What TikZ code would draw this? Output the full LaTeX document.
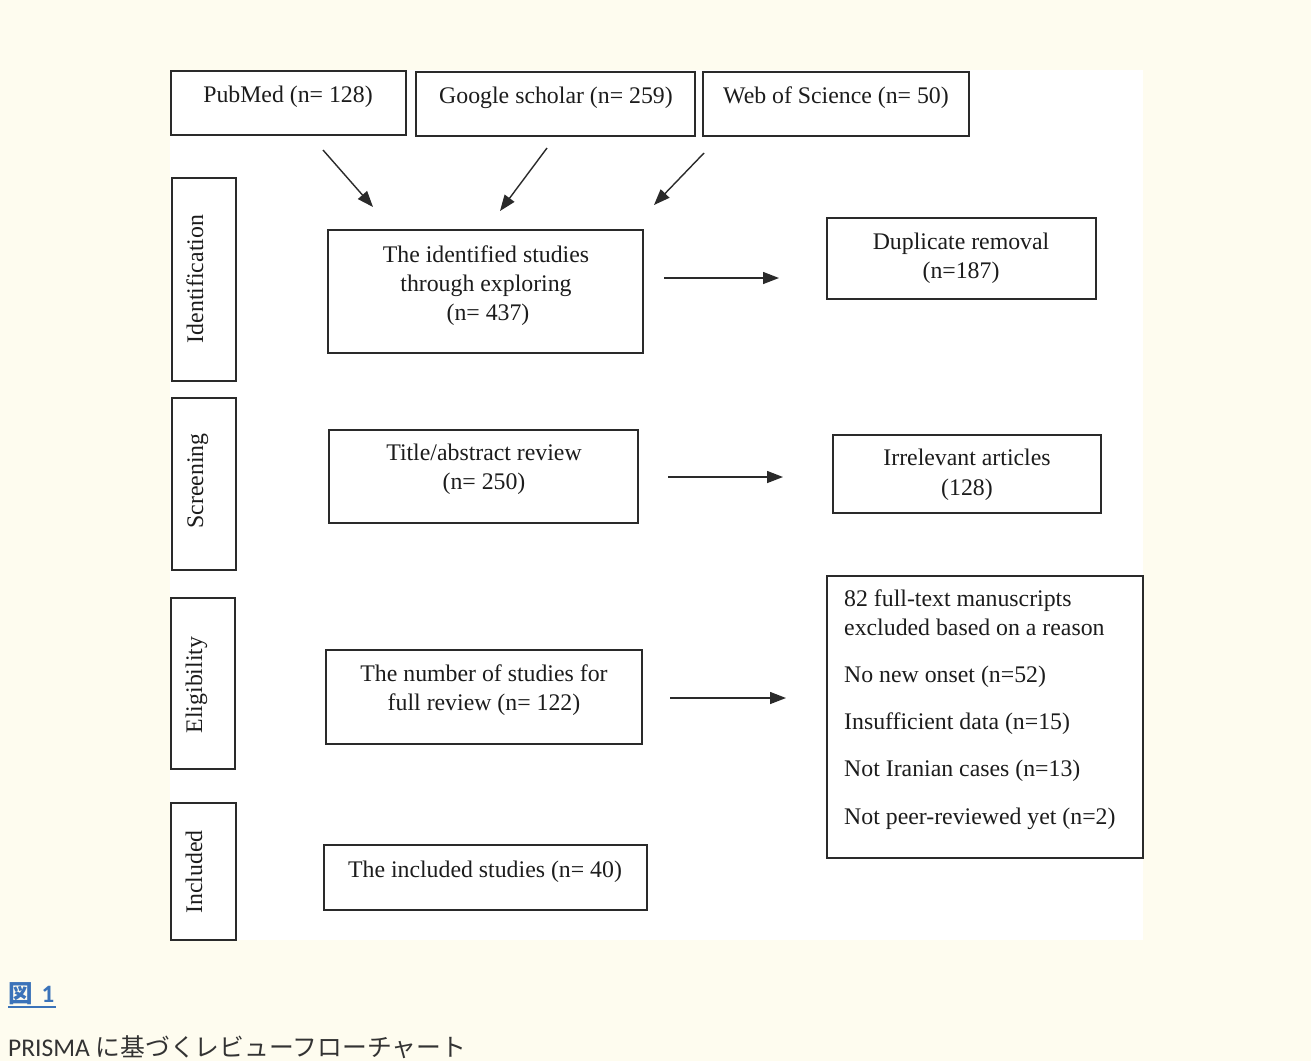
\documentclass[tikz,border=0pt]{standalone}
\usepackage{fontspec}
\setmainfont{Liberation Serif}
\newfontfamily\capfont{Carlito}
\newfontfamily\cjkfont{Noto Sans CJK JP}
\usetikzlibrary{arrows.meta}
\definecolor{cream}{HTML}{FEFCEF}
\definecolor{linec}{HTML}{2A2A2A}
\definecolor{txtc}{HTML}{1C1C1C}
\definecolor{figblue}{HTML}{3B73B9}
\definecolor{capgray}{HTML}{333333}
\tikzset{
  box/.style={draw=linec, line width=1.9pt, fill=white, inner sep=0pt, outer sep=0pt},
  txt/.style={text=txtc, inner sep=0pt, anchor=base, font=\fontsize{23.8}{29.3}\selectfont},
  ltxt/.style={txt, anchor=base west},
  side/.style={txt, rotate=90},
  arr/.style={draw=linec, line width=1.4pt, -{Triangle[length=16pt,width=12pt]}}
}
\newcommand\PBox[5]{\node[box, minimum width={#4-#2}, minimum height={#5-#3}] (#1) at ({(#2+#4)/2},{(#3+#5)/2}) {};}
\begin{document}
\begin{tikzpicture}[x=1pt,y=-1pt]
\useasboundingbox (0,0) rectangle (1311,1061);
\fill[cream] (0,0) rectangle (1311,1061);
\fill[white] (170,70) rectangle (1143,940);
% source boxes
\PBox{pubbox}{171}{71}{406}{135}
\PBox{goobox}{416}{72}{695}{136}
\PBox{wosbox}{703}{72}{969}{136}
\node[txt] (pubt) at (288,102) {PubMed (n= 128)};
\node[txt] (goot) at (556,103) {Google scholar (n= 259)};
\node[txt] (wost) at (836,103) {Web of Science (n= 50)};
% side labels
\PBox{s1}{172}{178}{236}{381}
\PBox{s2}{172}{398}{236}{570}
\PBox{s3}{171}{598}{235}{769}
\PBox{s4}{171}{803}{236}{940}
\node[side] (s1t) at (203,279) {Identification};
\node[side] (s2t) at (203,481) {Screening};
\node[side] (s3t) at (202,685) {Eligibility};
\node[side] (s4t) at (202,872) {Included};
% main column
\PBox{identbox}{328}{230}{643}{353}
\node[txt] (id1) at (486,262) {The identified studies};
\node[txt] (id2) at (486,291) {through exploring};
\node[txt] (id3) at (488,320) {(n= 437)};
\PBox{titlebox}{329}{430}{638}{523}
\node[txt] (ti1) at (484,460) {Title/abstract review};
\node[txt] (ti2) at (484,489) {(n= 250)};
\PBox{numbox}{326}{650}{642}{744}
\node[txt] (nu1) at (484,681) {The number of studies for};
\node[txt] (nu2) at (484,710) {full review (n= 122)};
\PBox{inclbox}{324}{845}{647}{910}
\node[txt] (inct) at (485,877) {The included studies (n= 40)};
% right column
\PBox{dupbox}{827}{218}{1096}{299}
\node[txt] (du1) at (961,249) {Duplicate removal};
\node[txt] (du2) at (961,278) {(n=187)};
\PBox{irrbox}{833}{435}{1101}{513}
\node[txt] (ir1) at (967,465) {Irrelevant articles};
\node[txt] (ir2) at (967,495) {(128)};
\PBox{bigbox}{827}{576}{1143}{858}
\node[ltxt] (b1) at (844,606) {82 full-text manuscripts};
\node[ltxt] (b2) at (844,635) {excluded based on a reason};
\node[ltxt] (b3) at (844,682) {No new onset (n=52)};
\node[ltxt] (b4) at (844,729) {Insufficient data (n=15)};
\node[ltxt] (b5) at (844,776) {Not Iranian cases (n=13)};
\node[ltxt] (b6) at (844,824) {Not peer-reviewed yet (n=2)};
% arrow end points
\coordinate (a1s) at (323,150); \coordinate (a1e) at (373,207);
\coordinate (a2s) at (547,148); \coordinate (a2e) at (500,211);
\coordinate (a3s) at (704,153); \coordinate (a3e) at (654,205);
\coordinate (a4s) at (664,278); \coordinate (a4e) at (779,278);
\coordinate (a5s) at (668,477); \coordinate (a5e) at (783,477);
\coordinate (a6s) at (670,698); \coordinate (a6e) at (786,698);
\draw[arr] (a1s) -- (a1e);
\draw[arr] (a2s) -- (a2e);
\draw[arr] (a3s) -- (a3e);
\draw[arr] (a4s) -- (a4e);
\draw[arr] (a5s) -- (a5e);
\draw[arr] (a6s) -- (a6e);
% caption
\node[anchor=base west, inner sep=0pt, text=figblue, font=\bfseries] (figlab) at (8,1002)
  {{\cjkfont\fontsize{24.5}{28}\selectfont 図}\hspace{9pt}{\capfont\fontsize{25}{28}\selectfont 1}};
\coordinate (ul0) at (8,1007);
\coordinate (ul2) at (56,1007);
\draw[figblue, line width=2pt] (ul0) -- (ul2);
\node[anchor=base west, inner sep=0pt, text=capgray] (captxt) at (8,1056)
  {{\capfont\fontsize{25.5}{28}\selectfont PRISMA }{\cjkfont\fontsize{24.8}{28}\selectfont に基づくレビューフローチャート}};
\end{tikzpicture}
\end{document}
